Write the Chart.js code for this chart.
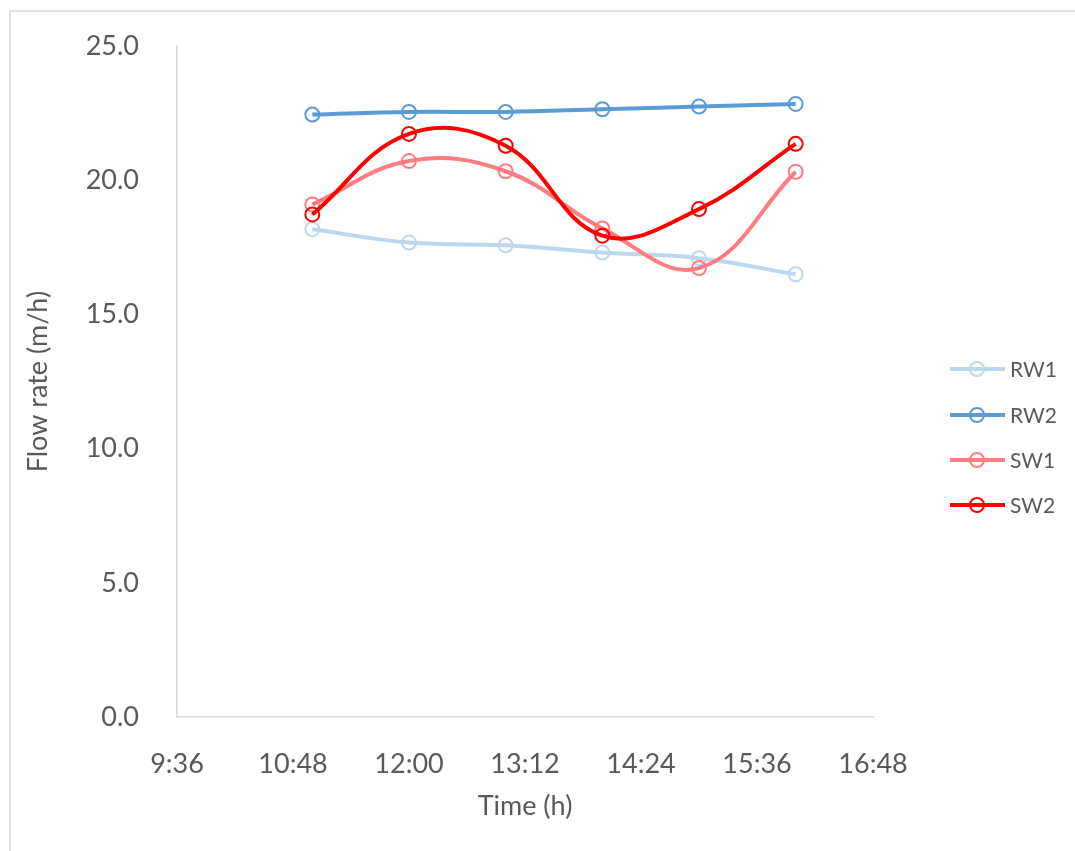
<!DOCTYPE html>
<html>
<head>
<meta charset="utf-8">
<script src="https://cdn.jsdelivr.net/npm/chart.js@4.4.1/dist/chart.umd.min.js"></script>
<style>
  body { margin: 0; background: #fff; }
  #wrap { width: 1075px; height: 851px; position: relative; }
</style>
</head>
<body>
<div id="wrap"><canvas id="myChart" width="1075" height="851"></canvas></div>
<script>
// sample times in decimal hours
const times = [11, 12, 13, 14, 15, 16];
const rw1 = [18.18, 17.68, 17.58, 17.31, 17.10, 16.50];
const rw2 = [22.45, 22.55, 22.55, 22.65, 22.75, 22.85];
const sw1 = [19.10, 20.72, 20.34, 18.21, 16.73, 20.32];
const sw2 = [18.73, 21.73, 21.29, 17.94, 18.93, 21.36];

const xTicks = [9.6, 10.8, 12.0, 13.2, 14.4, 15.6, 16.8];
const xTickLabels = ["9:36", "10:48", "12:00", "13:12", "14:24", "15:36", "16:48"];
const yTicks = [0, 5, 10, 15, 20, 25];

const FONT = "Lato";
const TEXT = "#595959";
const AXIS = "#d9d9d9";

const toPoints = (vals) => vals.map((v, i) => ({ x: times[i], y: v }));

const series = (label, vals, color, order) => ({
  label: label,
  data: toPoints(vals),
  borderColor: color,
  backgroundColor: color,
  borderWidth: 4,
  tension: 0.4,
  pointRadius: 7,
  pointBorderWidth: 2,
  pointBorderColor: color,
  pointBackgroundColor: "rgba(255,255,255,0)",
  order: order,
});

// frame + legend drawn by hand
const extras = {
  id: "extras",
  beforeDraw(chart) {
    const c = chart.ctx;
    c.save();
    c.fillStyle = "#fff";
    c.fillRect(0, 0, chart.width, chart.height);
    c.strokeStyle = AXIS;
    c.lineWidth = 1.5;
    c.beginPath();
    c.moveTo(10, chart.height);
    c.lineTo(10, 11);
    c.lineTo(chart.width, 11);
    c.stroke();
    c.restore();
  },
  afterDraw(chart) {
    const c = chart.ctx;
    const rows = [369, 415, 460, 505];
    c.save();
    chart.data.datasets.forEach((ds, i) => {
      const y = rows[i];
      c.strokeStyle = ds.borderColor;
      c.lineWidth = 4;
      c.beginPath();
      c.moveTo(950, y);
      c.lineTo(1005, y);
      c.stroke();
      c.lineWidth = 2;
      c.fillStyle = "#fff";
      c.beginPath();
      c.arc(977, y, 7, 0, Math.PI * 2);
      c.fill();
      c.beginPath();
      c.moveTo(970, y);
      c.lineTo(984, y);
      c.lineWidth = 4;
      c.stroke();
      c.lineWidth = 2;
      c.beginPath();
      c.arc(977, y, 7, 0, Math.PI * 2);
      c.stroke();
      c.fillStyle = TEXT;
      c.font = "21px " + FONT;
      c.textBaseline = "middle";
      c.fillText(ds.label, 1010, y + 1);
    });
    c.restore();
  },
};

const ctx = document.getElementById("myChart").getContext("2d");
const myChart = new Chart(ctx, {
  type: "line",
  data: {
    datasets: [
      series("RW1", rw1, "#bdd7ee", 4),
      series("RW2", rw2, "#5b9bd5", 3),
      series("SW1", sw1, "#ff7c80", 2),
      series("SW2", sw2, "#ff0000", 1),
    ],
  },
  plugins: [extras],
  options: {
    responsive: false,
    animation: false,
    layout: { padding: { left: 0, top: 44, right: 202, bottom: 0 } },
    plugins: {
      legend: { display: false },
      tooltip: { enabled: false },
    },
    scales: {
      x: {
        type: "linear",
        min: 9.6,
        max: 16.8,
        afterBuildTicks: (scale) => { scale.ticks = xTicks.map((v) => ({ value: v })); },
        afterFit: (scale) => { scale.height = 134; },
        grid: { display: false },
        border: { color: AXIS, width: 1.5 },
        ticks: {
          color: TEXT,
          font: { family: FONT, size: 27 },
          padding: 23,
          maxRotation: 0,
          callback: (v, i) => xTickLabels[i],
        },
        title: {
          display: true,
          text: "Time (h)",
          color: TEXT,
          font: { family: FONT, size: 27 },
          padding: { top: 0, bottom: 29 },
        },
      },
      y: {
        min: 0,
        max: 25,
        afterBuildTicks: (scale) => { scale.ticks = yTicks.map((v) => ({ value: v })); },
        afterFit: (scale) => { scale.width = 177; },
        grid: { display: false },
        border: { color: AXIS, width: 1.5 },
        ticks: {
          color: TEXT,
          font: { family: FONT, size: 27 },
          padding: 30,
          callback: (v) => v.toFixed(1),
        },
        title: {
          display: true,
          text: "Flow rate (m/h)",
          color: TEXT,
          font: { family: FONT, size: 27 },
          padding: { top: 22, bottom: 0 },
        },
      },
    },
  },
});
</script>
</body>
</html>
